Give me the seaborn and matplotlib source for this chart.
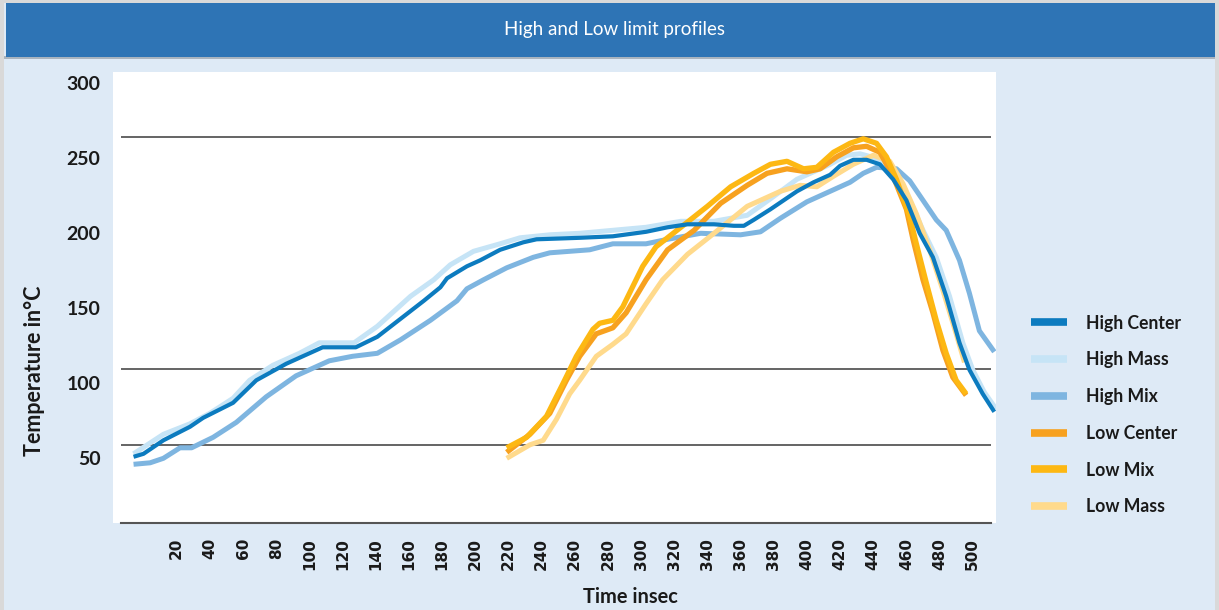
import matplotlib
matplotlib.use("Agg")
import matplotlib.pyplot as plt
import matplotlib.patches as mpatches
import seaborn as sns
import pandas as pd

# ---------------- data ----------------
title = "High and Low limit profiles"
x_label = "Time insec"
y_label = "Temperature in°C"
x_ticks = list(range(20, 501, 20))
y_ticks = [50, 100, 150, 200, 250, 300]
limit_lines = [264.2, 109.5, 58.9]

high_center_x = [-6, 0, 12, 28, 36, 54, 68, 86, 96, 108, 128, 141, 155, 169, 179, 183, 195, 203, 215, 229, 237,
                 263, 283, 303, 316, 328, 344, 356, 362, 368, 378, 394, 404, 414, 420, 428, 436, 444, 452, 460,
                 468, 476, 484, 492, 498, 506, 513]
high_center_y = [51, 53, 62, 71, 77, 87, 102, 113, 118, 124, 124, 131, 143, 155, 164, 170, 178, 182, 189, 194, 196,
                 197, 198, 201, 204, 206, 206, 205, 205, 209, 216, 228, 234, 239, 245, 249, 249, 246, 236, 222,
                 200, 184, 158, 127, 109, 93, 81]

high_mass_x = [-6, 12, 28, 40, 54, 64, 78, 94, 106, 127, 141, 161, 175, 185, 199, 215, 227, 245, 263, 303, 324,
               344, 364, 378, 394, 414, 424, 432, 442, 452, 462, 470, 478, 486, 494, 500, 507, 514]
high_mass_y = [53, 66, 73, 80, 90, 102, 112, 120, 127, 127, 138, 158, 169, 179, 188, 193, 197, 199, 200, 204, 208,
               208, 212, 223, 236, 246, 252, 253, 250, 238, 222, 202, 184, 158, 127, 109, 94, 83]

high_mix_x = [-6, 4, 12, 22, 29, 42, 56, 74, 92, 112, 126, 141, 155, 173, 189, 195, 205, 219, 235, 245, 257, 269,
              283, 303, 316, 336, 360, 372, 384, 400, 414, 426, 434, 442, 454, 462, 470, 478, 484, 492, 498, 504, 513]
high_mix_y = [46, 47, 50, 57, 57, 64, 74, 91, 105, 115, 118, 120, 129, 142, 155, 163, 169, 177, 184, 187, 188, 189,
              193, 193, 196, 200, 199, 201, 210, 221, 228, 234, 240, 244, 243, 235, 222, 209, 202, 182, 160, 135, 121]

low_center_x = [219, 233, 245, 255, 263, 273, 283, 291, 303, 316, 332, 348, 364, 376, 388, 400, 408, 418, 428, 436,
                444, 452, 460, 464, 470, 476, 482, 488, 496]
low_center_y = [54, 66, 80, 102, 118, 133, 137, 147, 169, 189, 202, 220, 232, 240, 243, 241, 243, 251, 257, 258,
                254, 238, 216, 196, 169, 147, 122, 104, 92]

low_mix_x = [219, 231, 243, 253, 261, 271, 275, 283, 289, 293, 301, 309, 324, 340, 354, 368, 378, 388, 398, 406,
             416, 426, 434, 442, 448, 454, 462, 466, 472, 478, 484, 490, 496]
low_mix_y = [57, 64, 78, 100, 118, 136, 140, 142, 151, 160, 178, 191, 204, 218, 231, 240, 246, 248, 243, 244,
             254, 260, 263, 260, 251, 236, 211, 193, 167, 142, 120, 102, 93]

low_mass_x = [219, 233, 241, 249, 257, 263, 273, 283, 291, 303, 313, 328, 344, 364, 384, 396, 406, 416, 428, 440,
              450, 458, 466, 474, 482, 490, 495]
low_mass_y = [50, 59, 62, 76, 93, 102, 118, 126, 133, 153, 169, 186, 200, 218, 228, 232, 231, 238, 246, 252,
              248, 233, 213, 189, 162, 133, 114]

series_names = ["High Center", "High Mass", "High Mix", "Low Center", "Low Mix", "Low Mass"]
series_colors = ["#0C7BBF", "#C6E4F6", "#7EB5E0", "#F7A11F", "#FDB813", "#FFDA8C"]

# ---------------- style ----------------
sns.set_style("white")
plt.rcParams['font.family'] = ['Lato', 'DejaVu Sans']

W, H = 1219, 610
fig = plt.figure(figsize=(W / 100, H / 100), dpi=100)
bg = "#DEEAF6"
fig.patch.set_facecolor("#D9D9D9")
fig.patches.append(mpatches.Rectangle((4 / W, 0), (W - 8) / W, (H - 3) / H, transform=fig.transFigure,
                                      facecolor=bg, edgecolor="none", zorder=-10))
# title bar
fig.patches.append(mpatches.Rectangle((4 / W, 1 - 59 / H), (W - 8) / W, 3 / H, transform=fig.transFigure,
                                      facecolor="#A9B4BF", edgecolor="none", zorder=-9))
fig.patches.append(mpatches.Rectangle((6 / W, 1 - 57 / H), (W - 10) / W, 54 / H, transform=fig.transFigure,
                                      facecolor="#2E74B5", edgecolor="none", zorder=-8))
fig.text(614 / W, 1 - 30 / H, title, ha="center", va="center", color="white",
         family=["Lato", "DejaVu Sans"], fontweight="normal", fontsize=13.5, zorder=3)

ax = fig.add_axes([113 / W, (H - 522.5) / H, 883 / W, 450.5 / H])
ax.set_zorder(5)
ax.set_facecolor("white")

px_per_unit_x = 33.17 / 20
ax.set_xlim((113 - 143.5) / px_per_unit_x, (996 - 143.5) / px_per_unit_x)
ax.set_ylim(50 - (522.5 - 458.3) / 1.5, 50 + (458.3 - 72) / 1.5)

line_left = (121 - 143.5) / px_per_unit_x
line_right = (991 - 143.5) / px_per_unit_x
ax.hlines(limit_lines, line_left, line_right, colors="#4A4A4A", linewidth=1.2, zorder=1)

data = {
    "High Center": (high_center_x, high_center_y),
    "High Mass": (high_mass_x, high_mass_y),
    "High Mix": (high_mix_x, high_mix_y),
    "Low Center": (low_center_x, low_center_y),
    "Low Mix": (low_mix_x, low_mix_y),
    "Low Mass": (low_mass_x, low_mass_y),
}
widths = {"High Center": 3.0, "High Mass": 3.6, "High Mix": 3.6,
          "Low Center": 3.8, "Low Mix": 3.8, "Low Mass": 3.6}
draw_order = ["High Mix", "High Mass", "Low Mass", "Low Center", "Low Mix", "High Center"]
color_map = dict(zip(series_names, series_colors))

for i, name in enumerate(draw_order):
    xs, ys = data[name]
    df = pd.DataFrame({"t": xs, "temp": ys})
    sns.lineplot(data=df, x="t", y="temp", ax=ax, color=color_map[name], linewidth=widths[name],
                 sort=False, estimator=None, label=name, zorder=3 + i,
                 solid_capstyle="butt", solid_joinstyle="round")

for s in ["top", "left", "right"]:
    ax.spines[s].set_visible(False)
ax.spines["bottom"].set_color("#555555")
ax.spines["bottom"].set_linewidth(1.5)
ax.spines["bottom"].set_bounds(line_left, line_right)

ax.set_xticks(x_ticks)
ax.set_xticklabels([str(t) for t in x_ticks], rotation=90,
                   family=["DejaVu Sans"], fontweight="bold", fontsize=11)
ax.tick_params(axis="x", direction="in", length=10, width=1.0, color="#333333", pad=11, labelcolor="#1A1A1A")
ax.set_yticks(y_ticks)
ax.set_yticklabels([str(t) for t in y_ticks], family=["Lato", "DejaVu Sans"],
                   fontweight="bold", fontsize=14)
ax.tick_params(axis="y", length=0, pad=9, labelcolor="#1A1A1A")

ax.set_xlabel(x_label, fontweight="bold", fontsize=14.4, color="#1A1A1A")
ax.xaxis.set_label_coords((630 - 113) / 883, -(597 - 522.5) / 450.5)
ax.set_ylabel(y_label, fontweight="bold", fontsize=15.5, color="#1A1A1A")
ax.yaxis.set_label_coords((35 - 113) / 883, (522.5 - 371) / 450.5)
ax.xaxis.label.set_va("center")
ax.yaxis.label.set_va("center")

handles, labels = ax.get_legend_handles_labels()
hmap = dict(zip(labels, handles))
leg = ax.legend([hmap[n] for n in series_names], series_names, loc="center left",
                bbox_to_anchor=(1031 / W, 1 - 415 / H), bbox_transform=fig.transFigure,
                frameon=False, borderpad=0, borderaxespad=0, handlelength=2.05, handletextpad=1.05,
                labelspacing=1.12, prop={"family": ["Lato", "DejaVu Sans"], "weight": "bold", "size": 12.7})
for ln in leg.get_lines():
    ln.set_linewidth(5.5)
for t in leg.get_texts():
    t.set_color("#1A1A1A")

fig.savefig("out.png", dpi=100, facecolor=fig.get_facecolor())
